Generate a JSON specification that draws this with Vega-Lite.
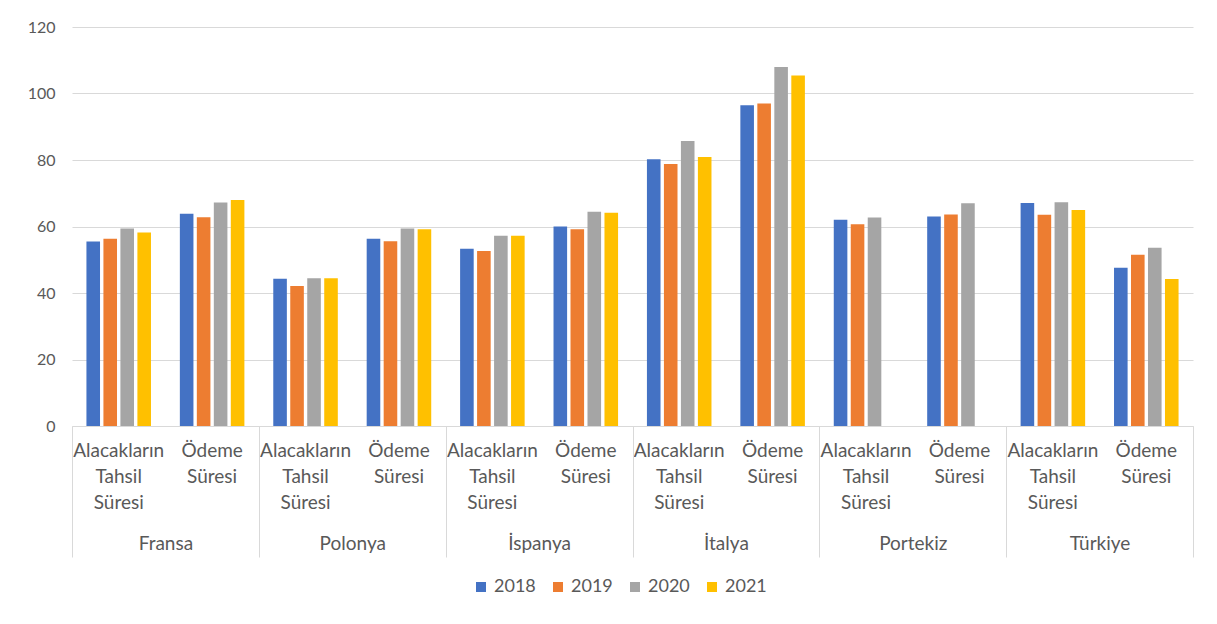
{
  "$schema": "https://vega.github.io/schema/vega-lite/v6.json",
  "autosize": "none",
  "width": 1121,
  "height": 399,
  "padding": {"left": 72, "top": 27, "right": 24, "bottom": 198},
  "background": "white",
  "config": {"view": {"stroke": null}, "font": "Lato"},
  "data": {
    "values": [
      {"ulke": "Fransa", "kategori": "Fransa|Alacakların Tahsil Süresi", "yil": "2018", "deger": 55.5},
      {"ulke": "Fransa", "kategori": "Fransa|Alacakların Tahsil Süresi", "yil": "2019", "deger": 56.3},
      {"ulke": "Fransa", "kategori": "Fransa|Alacakların Tahsil Süresi", "yil": "2020", "deger": 59.4},
      {"ulke": "Fransa", "kategori": "Fransa|Alacakların Tahsil Süresi", "yil": "2021", "deger": 58.2},
      {"ulke": "Fransa", "kategori": "Fransa|Ödeme Süresi", "yil": "2018", "deger": 63.8},
      {"ulke": "Fransa", "kategori": "Fransa|Ödeme Süresi", "yil": "2019", "deger": 62.8},
      {"ulke": "Fransa", "kategori": "Fransa|Ödeme Süresi", "yil": "2020", "deger": 67.2},
      {"ulke": "Fransa", "kategori": "Fransa|Ödeme Süresi", "yil": "2021", "deger": 68.0},
      {"ulke": "Polonya", "kategori": "Polonya|Alacakların Tahsil Süresi", "yil": "2018", "deger": 44.3},
      {"ulke": "Polonya", "kategori": "Polonya|Alacakların Tahsil Süresi", "yil": "2019", "deger": 42.1},
      {"ulke": "Polonya", "kategori": "Polonya|Alacakların Tahsil Süresi", "yil": "2020", "deger": 44.4},
      {"ulke": "Polonya", "kategori": "Polonya|Alacakların Tahsil Süresi", "yil": "2021", "deger": 44.4},
      {"ulke": "Polonya", "kategori": "Polonya|Ödeme Süresi", "yil": "2018", "deger": 56.3},
      {"ulke": "Polonya", "kategori": "Polonya|Ödeme Süresi", "yil": "2019", "deger": 55.6},
      {"ulke": "Polonya", "kategori": "Polonya|Ödeme Süresi", "yil": "2020", "deger": 59.4},
      {"ulke": "Polonya", "kategori": "Polonya|Ödeme Süresi", "yil": "2021", "deger": 59.2},
      {"ulke": "İspanya", "kategori": "İspanya|Alacakların Tahsil Süresi", "yil": "2018", "deger": 53.3},
      {"ulke": "İspanya", "kategori": "İspanya|Alacakların Tahsil Süresi", "yil": "2019", "deger": 52.6},
      {"ulke": "İspanya", "kategori": "İspanya|Alacakların Tahsil Süresi", "yil": "2020", "deger": 57.2},
      {"ulke": "İspanya", "kategori": "İspanya|Alacakların Tahsil Süresi", "yil": "2021", "deger": 57.2},
      {"ulke": "İspanya", "kategori": "İspanya|Ödeme Süresi", "yil": "2018", "deger": 60.0},
      {"ulke": "İspanya", "kategori": "İspanya|Ödeme Süresi", "yil": "2019", "deger": 59.2},
      {"ulke": "İspanya", "kategori": "İspanya|Ödeme Süresi", "yil": "2020", "deger": 64.4},
      {"ulke": "İspanya", "kategori": "İspanya|Ödeme Süresi", "yil": "2021", "deger": 64.1},
      {"ulke": "İtalya", "kategori": "İtalya|Alacakların Tahsil Süresi", "yil": "2018", "deger": 80.2},
      {"ulke": "İtalya", "kategori": "İtalya|Alacakların Tahsil Süresi", "yil": "2019", "deger": 78.8},
      {"ulke": "İtalya", "kategori": "İtalya|Alacakların Tahsil Süresi", "yil": "2020", "deger": 85.7},
      {"ulke": "İtalya", "kategori": "İtalya|Alacakların Tahsil Süresi", "yil": "2021", "deger": 80.9},
      {"ulke": "İtalya", "kategori": "İtalya|Ödeme Süresi", "yil": "2018", "deger": 96.5},
      {"ulke": "İtalya", "kategori": "İtalya|Ödeme Süresi", "yil": "2019", "deger": 97.0},
      {"ulke": "İtalya", "kategori": "İtalya|Ödeme Süresi", "yil": "2020", "deger": 108.0},
      {"ulke": "İtalya", "kategori": "İtalya|Ödeme Süresi", "yil": "2021", "deger": 105.4},
      {"ulke": "Portekiz", "kategori": "Portekiz|Alacakların Tahsil Süresi", "yil": "2018", "deger": 62.0},
      {"ulke": "Portekiz", "kategori": "Portekiz|Alacakların Tahsil Süresi", "yil": "2019", "deger": 60.7},
      {"ulke": "Portekiz", "kategori": "Portekiz|Alacakların Tahsil Süresi", "yil": "2020", "deger": 62.7},
      {"ulke": "Portekiz", "kategori": "Portekiz|Ödeme Süresi", "yil": "2018", "deger": 63.0},
      {"ulke": "Portekiz", "kategori": "Portekiz|Ödeme Süresi", "yil": "2019", "deger": 63.6},
      {"ulke": "Portekiz", "kategori": "Portekiz|Ödeme Süresi", "yil": "2020", "deger": 67.0},
      {"ulke": "Türkiye", "kategori": "Türkiye|Alacakların Tahsil Süresi", "yil": "2018", "deger": 67.1},
      {"ulke": "Türkiye", "kategori": "Türkiye|Alacakların Tahsil Süresi", "yil": "2019", "deger": 63.5},
      {"ulke": "Türkiye", "kategori": "Türkiye|Alacakların Tahsil Süresi", "yil": "2020", "deger": 67.3},
      {"ulke": "Türkiye", "kategori": "Türkiye|Alacakların Tahsil Süresi", "yil": "2021", "deger": 65.0},
      {"ulke": "Türkiye", "kategori": "Türkiye|Ödeme Süresi", "yil": "2018", "deger": 47.6},
      {"ulke": "Türkiye", "kategori": "Türkiye|Ödeme Süresi", "yil": "2019", "deger": 51.5},
      {"ulke": "Türkiye", "kategori": "Türkiye|Ödeme Süresi", "yil": "2020", "deger": 53.6},
      {"ulke": "Türkiye", "kategori": "Türkiye|Ödeme Süresi", "yil": "2021", "deger": 44.2}
    ]
  },
  "layer": [
    {
      "mark": {"type": "bar"},
      "encoding": {
        "x": {
          "field": "kategori",
          "type": "nominal",
          "sort": [
            "Fransa|Alacakların Tahsil Süresi", "Fransa|Ödeme Süresi",
            "Polonya|Alacakların Tahsil Süresi", "Polonya|Ödeme Süresi",
            "İspanya|Alacakların Tahsil Süresi", "İspanya|Ödeme Süresi",
            "İtalya|Alacakların Tahsil Süresi", "İtalya|Ödeme Süresi",
            "Portekiz|Alacakların Tahsil Süresi", "Portekiz|Ödeme Süresi",
            "Türkiye|Alacakların Tahsil Süresi", "Türkiye|Ödeme Süresi"
          ],
          "scale": {"paddingInner": 0, "paddingOuter": 0},
          "axis": {
            "title": null,
            "ticks": false,
            "grid": false,
            "labelAngle": 0,
            "labelExpr": "indexof(datum.value, 'Alacak') >= 0 ? ['Alacakların', 'Tahsil', 'Süresi'] : ['Ödeme', 'Süresi']",
            "labelPadding": 15,
            "labelLineHeight": 26,
            "labelFontSize": 19,
            "labelColor": "#595959",
            "labelOverlap": false,
            "labelLimit": 0,
            "domainColor": "#d9d9d9"
          }
        },
        "xOffset": {
          "field": "yil",
          "type": "nominal",
          "scale": {"paddingInner": 0.2, "paddingOuter": 0.85}
        },
        "y": {
          "field": "deger",
          "type": "quantitative",
          "scale": {"domain": [0, 120]},
          "axis": {
            "title": null,
            "values": [0, 20, 40, 60, 80, 100, 120],
            "domain": false,
            "ticks": false,
            "labelPadding": 17,
            "labelFontSize": 16,
            "labelColor": "#595959",
            "gridColor": "#d9d9d9"
          }
        },
        "color": {
          "field": "yil",
          "type": "nominal",
          "scale": {
            "domain": ["2018", "2019", "2020", "2021"],
            "range": ["#4472C4", "#ED7D31", "#A5A5A5", "#FFC000"]
          },
          "legend": {
            "title": null,
            "orient": "none",
            "legendX": 400,
            "legendY": 551,
            "direction": "horizontal",
            "symbolType": "square",
            "symbolSize": 100,
            "symbolStrokeWidth": 0,
            "labelFontSize": 18,
            "labelColor": "#595959",
            "columnPadding": 13
          }
        }
      }
    },
    {
      "mark": {"type": "bar", "opacity": 0},
      "encoding": {
        "x": {
          "field": "ulke",
          "type": "nominal",
          "sort": ["Fransa", "Polonya", "İspanya", "İtalya", "Portekiz", "Türkiye"],
          "scale": {"paddingInner": 0, "paddingOuter": 0},
          "axis": {
            "orient": "bottom",
            "title": null,
            "domain": false,
            "grid": false,
            "tickBand": "extent",
            "tickSize": 131,
            "tickColor": "#d9d9d9",
            "labelPadding": -23,
            "labelAngle": 0,
            "labelFontSize": 19,
            "labelColor": "#595959"
          }
        },
        "y": {"field": "deger", "type": "quantitative"}
      }
    }
  ],
  "resolve": {"scale": {"x": "independent"}, "axis": {"x": "independent"}}
}
